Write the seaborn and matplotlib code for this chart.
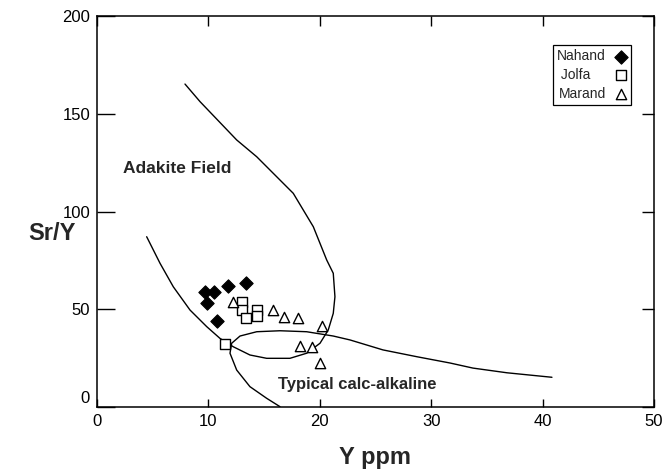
import matplotlib
matplotlib.use("Agg")
import matplotlib.pyplot as plt
import matplotlib.transforms as mtransforms
import seaborn as sns

# ---- data ----
nahand_y = [9.7, 10.5, 11.8, 13.4, 9.9, 10.8]
nahand_sry = [59.0, 59.0, 62.0, 63.3, 53.4, 44.0]

jolfa_y = [13.0, 13.0, 13.4, 14.4, 14.4, 11.5]
jolfa_sry = [53.6, 49.6, 45.4, 49.6, 46.7, 32.2]

marand_y = [12.2, 15.8, 16.8, 18.0, 20.2, 18.2, 19.3, 20.0]
marand_sry = [53.6, 49.6, 46.2, 45.4, 41.4, 31.4, 30.8, 22.4]

# Adakite field boundary
adakite_x = [7.90, 9.25, 12.54, 14.34, 17.62, 19.42, 20.62, 21.21, 21.36, 21.21,
             20.76, 20.02, 18.82, 17.32, 15.23, 13.73, 12.24, 11.04, 9.85, 8.35,
             6.85, 5.66, 4.46]
adakite_y = [165.2, 156.2, 136.6, 128.0, 109.3, 92.2, 75.2, 68.4, 56.4, 47.9,
             39.4, 32.6, 27.5, 24.9, 24.9, 26.6, 30.8, 35.1, 41.1, 49.6,
             61.5, 73.5, 87.1]

# Typical calc-alkaline field boundary
calc_x = [16.43, 15.23, 13.73, 12.54, 11.94, 12.09, 12.84, 14.34, 16.43, 18.82,
          21.21, 22.71, 25.67, 28.73, 31.69, 33.75, 36.80, 40.84]
calc_y = [0.15, 4.45, 10.4, 18.9, 27.5, 32.6, 36.3, 38.5, 39.0, 38.5,
          36.3, 34.3, 29.2, 25.7, 22.5, 19.9, 17.5, 15.2]

x_ticks = [0, 10, 20, 30, 40, 50]
y_ticks = [0, 50, 100, 150, 200]

# legend labels (padded with spaces so the text reads left-aligned)
labels = ["Nahand", " Jolfa    ", "Marand"]

# ---- style ----
sns.set_style("ticks")
plt.rcParams["font.family"] = ["Liberation Sans", "DejaVu Sans"]

fig = plt.figure(figsize=(6.62, 4.71), dpi=100)
ax = fig.add_axes([0.1465, 0.1359, 0.8414, 0.8301])

sns.lineplot(x=adakite_x, y=adakite_y, sort=False, estimator=None,
             color="black", linewidth=1.0, ax=ax)
sns.lineplot(x=calc_x, y=calc_y, sort=False, estimator=None,
             color="black", linewidth=1.0, ax=ax)

sns.scatterplot(x=nahand_y, y=nahand_sry, marker="D", s=46, color="black",
                edgecolor="black", linewidth=0.8, label=labels[0], ax=ax, zorder=3)
sns.scatterplot(x=jolfa_y, y=jolfa_sry, marker="s", s=44, color="white",
                edgecolor="black", linewidth=1.0, label=labels[1], ax=ax, zorder=3)
sns.scatterplot(x=marand_y, y=marand_sry, marker="^", s=55, color="white",
                edgecolor="black", linewidth=1.0, label=labels[2], ax=ax, zorder=3)

ax.set_xlim(0, 50)
ax.set_ylim(0, 200)
ax.set_xticks(x_ticks)
ax.set_yticks(y_ticks)
ax.tick_params(direction="in", top=True, right=True, labelsize=12,
               width=1.0, color="black", labelcolor="black", pad=5)

for t in ax.yaxis.get_major_ticks():
    t.tick1line.set_markersize(13)
    t.tick2line.set_markersize(9)
for t in ax.xaxis.get_major_ticks():
    t.tick1line.set_markersize(6)
    t.tick2line.set_markersize(7)

for sp in ax.spines.values():
    sp.set_color("black")
    sp.set_linewidth(1.1)

# shift the y "0" label up a bit like the reference
lbl0 = ax.get_yticklabels()[0]
lbl0.set_transform(lbl0.get_transform() +
                   mtransforms.ScaledTranslation(0, 7 / 72, fig.dpi_scale_trans))

ax.set_xlabel("Y ppm", fontsize=17, fontweight="bold", labelpad=12)
ax.set_ylabel("Sr/Y", fontsize=17, fontweight="bold", rotation=0,
              ha="center", va="center")
ax.yaxis.set_label_coords(-0.081, 0.445)

ax.text(2.3, 122, "Adakite Field", fontsize=12.5, fontweight="bold",
        ha="left", va="center")
ax.text(16.25, 11.5, "Typical calc-alkaline", fontsize=12, fontweight="bold",
        ha="left", va="center")

leg = ax.legend(loc="upper left", bbox_to_anchor=(553 / 662, 1 - 45 / 471),
                bbox_transform=fig.transFigure, borderaxespad=0,
                markerfirst=False, frameon=True, fancybox=False, shadow=False,
                fontsize=10, handlelength=0.8, handletextpad=0.7,
                borderpad=0.3, labelspacing=0.35, framealpha=1)
leg.get_frame().set_edgecolor("black")
leg.get_frame().set_linewidth(0.9)

fig.savefig("out.png", dpi=100)
